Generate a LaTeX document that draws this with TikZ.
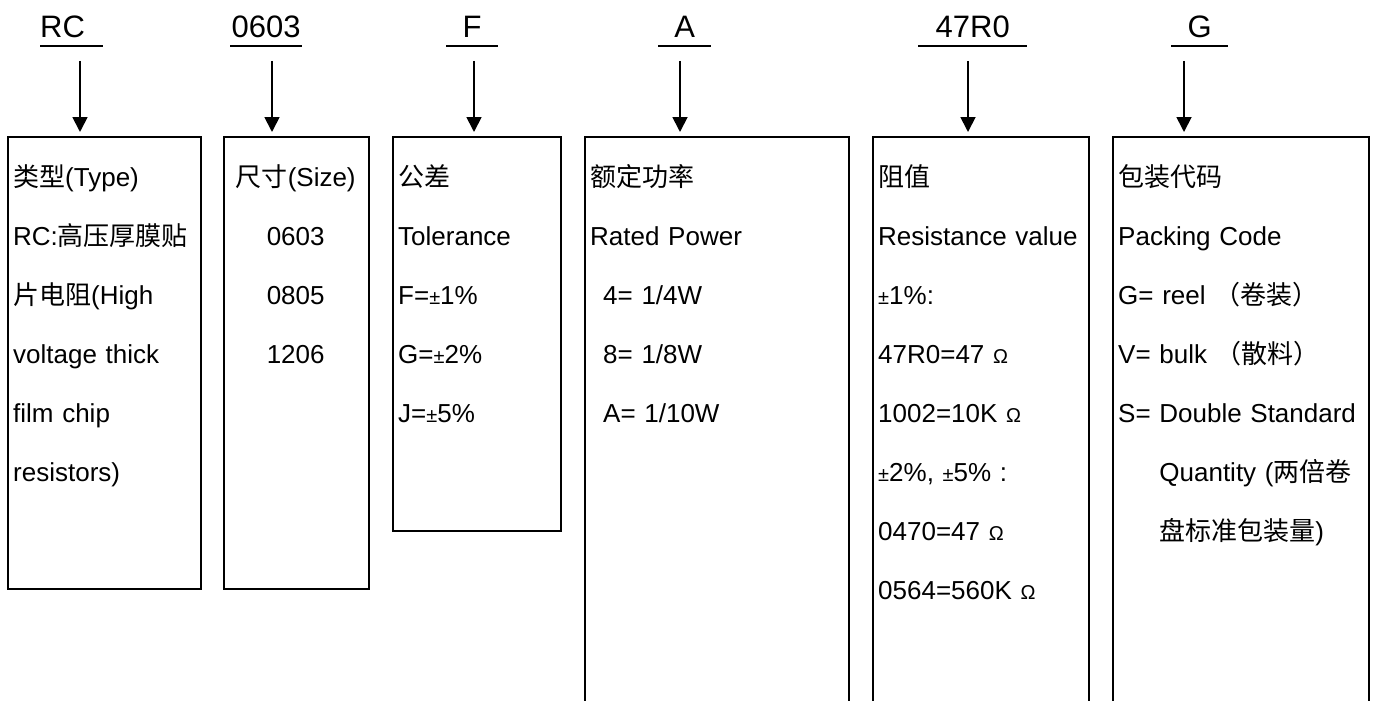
\documentclass[tikz,border=0pt]{standalone}
\usepackage{fontspec}
\setmainfont{Liberation Sans}
\newfontfamily\cjk{Noto Sans CJK SC}
\usetikzlibrary{arrows.meta,positioning,calc}
\newcommand\zh[1]{{\cjk #1}}
\newcommand\pmsym{{\fontsize{20}{20}\selectfont ±}}
\newcommand\ohmsym{{\fontsize{20}{20}\selectfont Ω}}
\tikzset{
  box/.style={draw, line width=1.8pt, inner sep=0pt, anchor=north west},
  txt/.style={anchor=base west, inner sep=0pt, text width=#1, align=left, font=\fontsize{26}{59}\selectfont},
  head/.style={anchor=base west, inner sep=0pt, text width=#1, align=center, font=\fontsize{31}{36}\selectfont},
  uline/.style={line width=1.8pt},
  arr/.style={-{Triangle[length=15pt,width=15pt]}, line width=1.8pt, shorten >=4pt}
}
\begin{document}
\begin{tikzpicture}[x=1pt,y=-1pt]
      \useasboundingbox (0,0) rectangle (1373,701);
      \clip (0,0) rectangle (1373,701);
      % code letters
      \node[head=63, align=left] (hRC) at (40,38) {RC};
      \node[head=72] (hSize) at (230,38) {0603};
      \node[head=52] (hTol) at (446,38) {F};
      \node[head=53] (hPow) at (658,38) {A};
      \node[head=109] (hRes) at (918,38) {47R0};
      \node[head=57] (hPack) at (1171,38) {G};
      \foreach \h in {hRC,hSize,hTol,hPow,hRes,hPack}
        \draw[uline] ([yshift=-8pt]\h.base west) -- ([yshift=-8pt]\h.base east);
      % boxes
      \node[box, minimum width=193, minimum height=452] (bType) at (7,136) {};
      \node[box, minimum width=145, minimum height=452] (bSize) at (223,136) {};
      \node[box, minimum width=168, minimum height=394] (bTol) at (392,136) {};
      \node[box, minimum width=264, minimum height=600] (bPow) at (584,136) {};
      \node[box, minimum width=216, minimum height=600] (bRes) at (872,136) {};
      \node[box, minimum width=256, minimum height=600] (bPack) at (1112,136) {};
      % arrows
      \coordinate (aRC) at (80,61);
      \coordinate (aSize) at (272,61);
      \coordinate (aTol) at (474,61);
      \coordinate (aPow) at (680,61);
      \coordinate (aRes) at (968,61);
      \coordinate (aPack) at (1184,61);
      \foreach \a/\b in {aRC/bType,aSize/bSize,aTol/bTol,aPow/bPow,aRes/bRes,aPack/bPack}
        \draw[arr] (\a) -- (\a |- \b.north);
      % box texts
      \node[txt=185] (tType) at (13,186) {\zh{类型}(Type)\\RC:\zh{高压厚膜贴}\\\zh{片电阻}(High\\voltage thick\\film chip\\resistors)};
      \node[txt=145, align=center] (tSize) at (223,186) {\zh{尺寸}(Size)\\0603\\0805\\1206};
      \node[txt=160] (tTol) at (398,186) {\zh{公差}\\Tolerance\\F=\pmsym1\%\\G=\pmsym2\%\\J=\pmsym5\%};
      \node[txt=250] (tPow) at (590,186) {\zh{额定功率}\\Rated Power\\\hspace*{13pt}4= 1/4W\\\hspace*{13pt}8= 1/8W\\\hspace*{13pt}A= 1/10W};
      \node[txt=205] (tRes) at (878,186) {\zh{阻值}\\Resistance value\\\pmsym1\%:\\47R0=47 \ohmsym\\1002=10K \ohmsym\\\pmsym2\%, \pmsym5\% :\\0470=47 \ohmsym\\0564=560K \ohmsym};
      \node[txt=248] (tPack) at (1118,186) {\zh{包装代码}\\Packing Code\\G= reel \zh{（卷装）}\\V= bulk \zh{（散料）}\\S= Double Standard\\\hphantom{S= }Quantity (\zh{两倍卷}\\\hphantom{S= }\zh{盘标准包装量})};
    \end{tikzpicture}
\end{document}
